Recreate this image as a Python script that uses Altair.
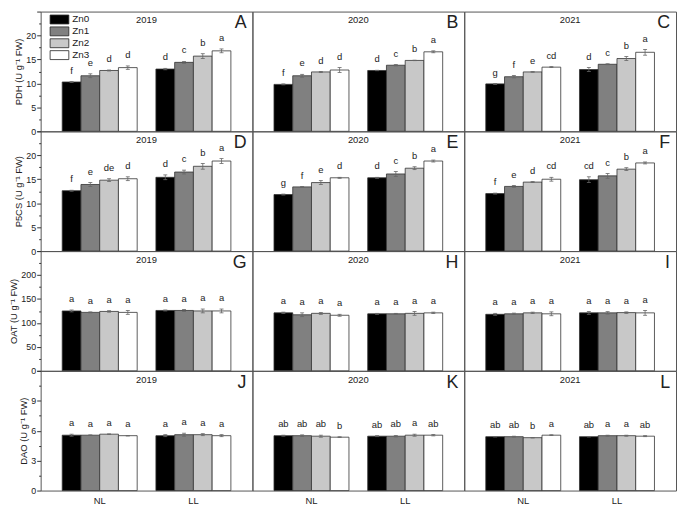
import altair as alt
import pandas as pd

groups = ["NL", "LL"]
treatments = ["Zn0", "Zn1", "Zn2", "Zn3"]
years = ["2019", "2020", "2021"]
enzymes = ["PDH", "P5CS", "OAT", "DAO"]
panel_letters = [["A", "B", "C"], ["D", "E", "F"], ["G", "H", "I"], ["J", "K", "L"]]
fill_colors = ["#000000", "#808080", "#c8c8c8", "#ffffff"]

# values per year: NL Zn0..Zn3, LL Zn0..Zn3
pdh_means = [
    [10.3, 11.6, 12.7, 13.3, 13.0, 14.4, 15.7, 16.8],
    [9.8, 11.6, 12.4, 12.8, 12.7, 13.8, 14.8, 16.6],
    [9.9, 11.4, 12.4, 13.4, 12.9, 14.0, 15.2, 16.5],
]
pdh_errs = [
    [0.1, 0.4, 0.1, 0.35, 0.15, 0.2, 0.5, 0.4],
    [0.1, 0.3, 0.1, 0.5, 0.05, 0.15, 0.05, 0.2],
    [0.1, 0.25, 0.05, 0.1, 0.4, 0.1, 0.4, 0.6],
]
pdh_sig = [
    ["f", "e", "d", "d", "d", "c", "b", "a"],
    ["f", "e", "d", "d", "d", "c", "b", "a"],
    ["g", "f", "e", "cd", "d", "c", "b", "a"],
]
p5cs_means = [
    [12.6, 13.9, 14.8, 15.1, 15.4, 16.5, 17.7, 18.8],
    [11.8, 13.4, 14.3, 15.3, 15.3, 16.1, 17.3, 18.8],
    [12.0, 13.5, 14.4, 15.0, 14.9, 15.7, 17.1, 18.4],
]
p5cs_errs = [
    [0.1, 0.4, 0.3, 0.4, 0.5, 0.4, 0.6, 0.5],
    [0.1, 0.05, 0.4, 0.1, 0.1, 0.5, 0.3, 0.2],
    [0.1, 0.2, 0.1, 0.4, 0.6, 0.5, 0.3, 0.2],
]
p5cs_sig = [
    ["f", "e", "de", "d", "d", "c", "b", "a"],
    ["g", "f", "e", "d", "d", "c", "b", "a"],
    ["f", "e", "d", "cd", "cd", "c", "b", "a"],
]
oat_means = [
    [125, 122, 124, 122, 126, 126, 125, 125],
    [121, 117, 120, 116, 119, 119, 120, 121],
    [118, 119, 121, 119, 121, 121, 121.5, 121],
]
oat_errs = [
    [2, 1, 1.5, 4, 1, 2, 4, 4],
    [1.5, 4, 2, 2, 1, 1, 4, 1.5],
    [2, 1.5, 1.5, 4, 3, 2.5, 1.5, 5],
]
oat_sig = [["a"] * 8, ["a"] * 8, ["a"] * 8]
dao_means = [
    [5.55, 5.55, 5.65, 5.5, 5.5, 5.6, 5.6, 5.5],
    [5.5, 5.5, 5.45, 5.35, 5.45, 5.45, 5.55, 5.55],
    [5.4, 5.4, 5.3, 5.55, 5.4, 5.5, 5.5, 5.45],
]
dao_errs = [
    [0.1, 0.03, 0.03, 0.03, 0.1, 0.15, 0.1, 0.1],
    [0.05, 0.08, 0.1, 0.04, 0.05, 0.08, 0.1, 0.07],
    [0.03, 0.05, 0.03, 0.04, 0.03, 0.05, 0.05, 0.05],
]
dao_sig = [
    ["a", "a", "a", "a", "a", "a", "a", "a"],
    ["ab", "ab", "ab", "b", "ab", "ab", "a", "ab"],
    ["ab", "ab", "b", "a", "ab", "a", "a", "ab"],
]

means = {"PDH": pdh_means, "P5CS": p5cs_means, "OAT": oat_means, "DAO": dao_means}
errs = {"PDH": pdh_errs, "P5CS": p5cs_errs, "OAT": oat_errs, "DAO": dao_errs}
sigs = {"PDH": pdh_sig, "P5CS": p5cs_sig, "OAT": oat_sig, "DAO": dao_sig}
y_max = {"PDH": 25, "P5CS": 25, "OAT": 250, "DAO": 12}
y_step = {"PDH": 5, "P5CS": 5, "OAT": 50, "DAO": 3}

W, H = 214, 121
FONT = "Liberation Sans"


def panel(r, c):
    enz = enzymes[r]
    df = pd.DataFrame({
        "group": [g for g in groups for t in treatments],
        "trt": [t for g in groups for t in treatments],
        "mean": means[enz][c],
        "err": errs[enz][c],
        "sig": sigs[enz][c],
    })
    df["lo"] = df["mean"] - df["err"]
    df["hi"] = df["mean"] + df["err"]

    ymax, step = y_max[enz], y_step[enz]
    minor = step / 2
    vals = [i * minor for i in range(int(round(ymax / minor)) + 1)]
    yscale = alt.Scale(domain=[0, ymax], nice=False, zero=True)
    if c == 0:
        yaxis = alt.Axis(
            title=f"{enz} (U g\u207b\u00b9 FW)",
            values=vals,
            labelExpr=f"(abs(datum.value % {step}) < 1e-6 && datum.value < {ymax}) ? datum.label : ''",
            tickSize={"condition": {"test": f"abs(datum.value % {step}) < 1e-6", "value": 4}, "value": 2},
            domain=False, grid=False, tickColor="#333", labelColor="#222",
            labelFontSize=9, titleFontSize=9.5, titleFontWeight="normal",
            labelPadding=1, titlePadding=2, titleColor="#222",
        )
    else:
        yaxis = None

    if r == len(enzymes) - 1:
        xaxis = alt.Axis(title=None, labelAngle=0, ticks=False, domain=False,
                         labelFontSize=9.5, labelPadding=5, labelColor="#222")
    else:
        xaxis = None

    X = alt.X("group:N", scale=alt.Scale(domain=groups, paddingInner=0.2, paddingOuter=0.23), axis=xaxis)
    XO = alt.XOffset("trt:N", scale=alt.Scale(domain=treatments, paddingInner=0, paddingOuter=0))

    if r == 0 and c == 0:
        legend = alt.Legend(
            orient="none", legendX=14, legendY=3, title=None,
            symbolType="M-2.1,-1H2.1V1H-2.1Z", symbolSize=81,
            symbolStrokeColor="#222", symbolStrokeWidth=0.8, symbolOpacity=1,
            labelFontSize=10, labelOffset=8, rowPadding=-3.5, padding=0,
            labelColor="#222",
        )
    else:
        legend = None

    base = alt.Chart(df)
    bars = base.mark_bar(stroke="#333", strokeWidth=0.8, opacity=1).encode(
        x=X, xOffset=XO,
        y=alt.Y("mean:Q", scale=yscale, axis=yaxis),
        color=alt.Color("trt:N", scale=alt.Scale(domain=treatments, range=fill_colors), legend=legend),
    )
    rule = base.mark_rule(color="#666", strokeWidth=0.8).encode(
        x=X, xOffset=XO,
        y=alt.Y("lo:Q", scale=yscale, axis=yaxis), y2="hi:Q",
    )
    cap_lo = base.mark_tick(color="#666", thickness=0.8, size=4, opacity=1).encode(
        x=X, xOffset=XO, y=alt.Y("lo:Q", scale=yscale, axis=yaxis),
    )
    cap_hi = base.mark_tick(color="#666", thickness=0.8, size=4, opacity=1).encode(
        x=X, xOffset=XO, y=alt.Y("hi:Q", scale=yscale, axis=yaxis),
    )
    letters = base.mark_text(dy=-6, baseline="bottom", fontSize=9.5, color="#222").encode(
        x=X, xOffset=XO, y=alt.Y("hi:Q", scale=yscale, axis=yaxis), text="sig:N",
    )
    year = alt.Chart(pd.DataFrame({"year": [years[c]]})).mark_text(
        fontSize=9.5, baseline="middle", align="center", color="#222"
    ).encode(x=alt.value(W / 2), y=alt.value(9), text="year:N")
    lab = alt.Chart(pd.DataFrame({"lab": [panel_letters[r][c]]})).mark_text(
        fontSize=18, baseline="top", align="right", color="#222"
    ).encode(x=alt.value(W - 6), y=alt.value(3), text="lab:N")

    return alt.layer(bars, rule, cap_lo, cap_hi, letters, year, lab).properties(width=W, height=H)


panels = [panel(r, c) for r in range(len(enzymes)) for c in range(len(years))]

chart = (
    alt.concat(*panels, columns=3, spacing=0, bounds="flush", align="all")
    .resolve_scale(x="independent", y="independent", color="independent")
    .resolve_legend(color="independent")
    .properties(padding={"left": 0, "top": 0, "right": 0, "bottom": 0})
    .configure(font=FONT)
    .configure_view(stroke="#555", strokeWidth=1)
    .configure_concat(spacing=0)
    .configure_axis(labelFont=FONT, titleFont=FONT)
    .configure_text(font=FONT)
    .configure_legend(labelFont=FONT)
)

chart.save("out.html", embed_options={"renderer": "svg", "actions": False})
